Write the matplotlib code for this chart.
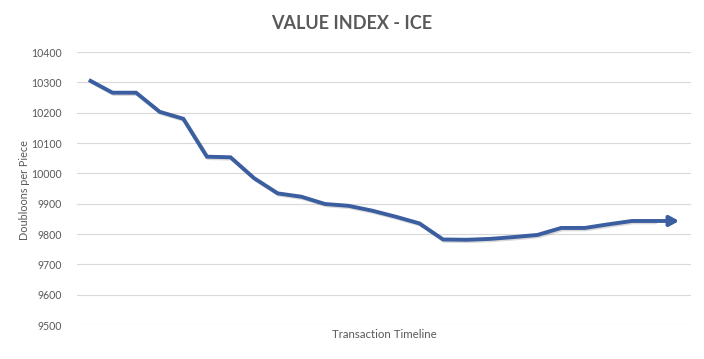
import matplotlib
matplotlib.use("Agg")
import matplotlib.pyplot as plt
import matplotlib.patheffects as pe

title = "VALUE INDEX - ICE"
x_label = "Transaction Timeline"
y_label = "Doubloons per Piece"
y_ticks = [9500, 9600, 9700, 9800, 9900, 10000, 10100, 10200, 10300, 10400]
values = [10308, 10266, 10266, 10203, 10180, 10055, 10053, 9984, 9934, 9923,
          9899, 9893, 9877, 9857, 9835, 9782, 9781, 9784, 9790, 9797,
          9820, 9820, 9832, 9843, 9843, 9843]
positions = list(range(len(values)))

plt.rcParams['font.family'] = ['Lato', 'DejaVu Sans']
fig = plt.figure(figsize=(7.04, 3.59), dpi=100)
ax = fig.add_axes([0.1094, 0.0947, 0.8721, 0.7603])

color = "#3A5E9F"
shadow = [pe.SimpleLineShadow(offset=(1.0, -1.0), alpha=0.15, shadow_color="k"), pe.Normal()]
ax.plot(positions[:-1], values[:-1], color=color, lw=2.8, solid_joinstyle="miter",
        solid_capstyle="butt", path_effects=shadow, zorder=3)
ax.annotate("", xy=(positions[-1], values[-1]), xytext=(positions[-2], values[-2]),
            arrowprops=dict(arrowstyle="-|>,head_length=0.55,head_width=0.3", color=color,
                            lw=2.8, shrinkA=0, shrinkB=0), zorder=3)

ax.set_xlim(-0.5, len(values) - 0.5)
ax.set_ylim(y_ticks[0], y_ticks[-1])
ax.set_yticks(y_ticks)
ax.set_xticks([])
ax.grid(axis="y", color="#D9D9D9", lw=0.8)
ax.set_axisbelow(True)
for s in ax.spines.values():
    s.set_visible(False)
ax.tick_params(axis="y", length=0, pad=11, labelsize=7.6, labelcolor="#595959")
ax.set_ylabel(y_label, fontsize=7.8, color="#595959")
ax.yaxis.set_label_coords(-0.077, 0.494)
ax.set_xlabel(x_label, fontsize=8.3, color="#595959", labelpad=3)
fig.text(0.5, 0.935, title, ha="center", va="center", fontsize=13,
         fontweight="bold", color="#595959")

fig.savefig("out.png", dpi=100)
